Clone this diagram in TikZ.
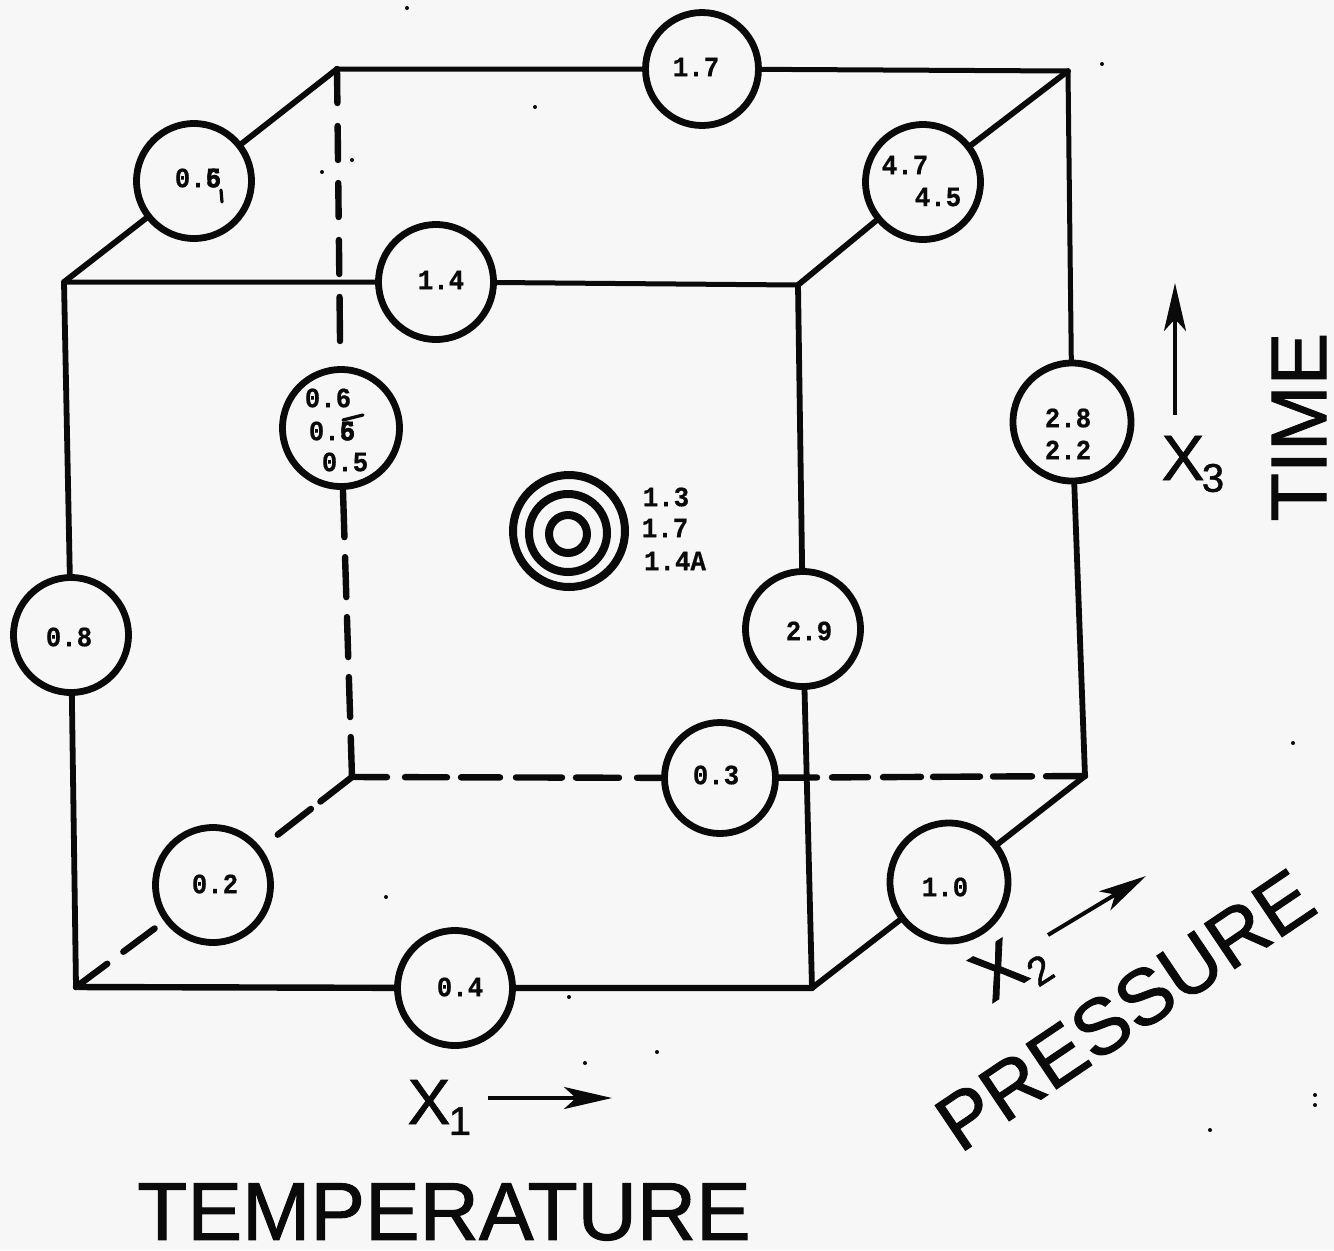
\documentclass[tikz,border=0pt]{standalone}
\usepackage{fontspec}
\setmainfont{Liberation Sans}[FakeBold=1.2]
\newfontfamily\typer{Liberation Mono}[BoldFeatures={FakeStretch=0.92,FakeBold=0.6}]
\usetikzlibrary{arrows.meta}
\definecolor{paper}{HTML}{F7F7F7}
\definecolor{ink}{HTML}{0A0A0A}
\tikzset{
  spot/.style={circle,draw=ink,line width=3.4pt,minimum size=#1,inner sep=0pt,outer sep=0pt},
  spot/.default=57.5pt,
  val/.style={inner sep=0pt,text=ink,font=\typer\bfseries\fontsize{14}{14}\selectfont},
  edge/.style={draw=ink,line width=2.9pt,line cap=round},
  hidden/.style={edge,line width=3.2pt},
  ring/.style={circle,draw=ink,line width=4pt,inner sep=0pt,outer sep=0pt,minimum size=#1},
  big/.style={inner sep=0pt,text=ink,font=\fontsize{39.5}{39.5}\selectfont},
  axis/.style={inner sep=0pt,text=ink,font=\fontsize{32}{32}\selectfont},
  axsubfont/.style={inner sep=0pt,text=ink,font=\fontsize{20}{20}\selectfont},
  axarrow/.style={draw=ink,line width=2pt,-{Stealth[length=24pt,width=11pt,inset=6pt]}},
  mark stroke/.style={draw=ink,line width=1.6pt,line cap=round},
  speck/.style={fill=ink}
}
\begin{document}
\begin{tikzpicture}[x=0.5pt,y=-0.5pt]
\fill[paper] (0,0) rectangle (1334,1250);
\useasboundingbox (0,0) rectangle (1334,1250);
% cube corners
\coordinate (A) at (64,282);
\coordinate (B) at (798,285);
\coordinate (C) at (812,988);
\coordinate (D) at (76,987);
\coordinate (E) at (337,69);
\coordinate (F) at (1068,71);
\coordinate (G) at (1085,776);
\coordinate (H) at (352,777);
% circles
\node[spot=56.5pt] (c17) at (702,69) {};
\node[spot] (c06) at (194,181) {};
\node[spot] (c14) at (436,282) {};
\node[spot] (c47) at (923,182) {};
\node[spot=58.5pt] (c065) at (341,428) {};
\node[spot=59pt] (c28) at (1072,422) {};
\node[spot] (c08) at (71,635) {};
\node[spot] (c29) at (803,629) {};
\node[spot=55.5pt] (c03) at (720,778) {};
\node[spot] (c02) at (213,885) {};
\node[spot=59pt] (c10) at (949,882) {};
\node[spot] (c04) at (455,988) {};
% solid edges
\draw[edge,line width=2.5pt] (A) -- (c14) (c14) -- (B);
\draw[edge,line width=2.5pt] (E) -- (c17) (c17) -- (F);
\draw[edge] (A) -- (c06) (c06) -- (E);
\draw[edge] (B) -- (c47) (c47) -- (F);
\draw[edge] (A) -- (c08) (c08) -- (D);
\draw[edge] (B) -- (c29) (c29) -- (C);
\draw[edge,line width=2.5pt] (F) -- (c28);
\draw[edge] (c28) -- (G);
\draw[edge,line width=3.2pt] (D) -- (c04) (c04) -- (C);
\draw[edge] (C) -- (c10) (c10) -- (G);
% hidden edges
\draw[hidden,dash pattern=on 17pt off 11.5pt on 17pt off 11.5pt on 17pt off 11.5pt on 17pt off 11.5pt on 22pt off 30pt] (E) -- (c065);
\draw[hidden,dash pattern=on 20pt off 10pt on 20pt off 10pt on 20pt off 10pt on 20pt off 10pt on 30pt off 10pt] (H) -- (c065);
\draw[hidden,dash pattern=on 17.5pt off 9pt on 21pt off 7pt on 19.5pt off 8pt on 23pt off 7pt on 21.5pt off 9pt on 40pt off 10pt] (H) -- (c03);
\draw[hidden,dash pattern=on 19.5pt off 7pt on 19.5pt off 6.5pt on 23.5pt off 6pt on 19pt off 7.5pt on 18pt off 7.5pt on 40pt off 10pt] (G) -- (c03);
\draw[hidden,dash pattern=on 20pt off 6pt on 21pt off 30pt] (H) -- (c02);
\draw[hidden,dash pattern=on 19.5pt off 10pt on 19.5pt off 30pt] (D) -- (c02);
% values
\node[val] (t17) at (696,67) {1.7};
\node[val] (t06) at (198,178) {0.\rlap{5}6};
\draw[mark stroke] (221,190) -- (222,202);
\node[val] (t14) at (441,280) {1.4};
\node[val] (t47) at (905,165) {4.7};
\node[val] (t45) at (938,197) {4.5};
\node[val] (t06a) at (328,398) {0.6};
\node[val] (t05a) at (332,431) {0.\rlap{5}6};
\draw[mark stroke] (343,420) -- (363,415);
\node[val] (t05b) at (345,462) {0.5};
\node[val] (t28) at (1068,418) {2.8};
\node[val] (t22) at (1068,450) {2.2};
\node[val] (t08) at (69,637) {0.8};
\node[val] (t29) at (809,631) {2.9};
\node[val] (t03) at (716,775) {0.3};
\node[val] (t02) at (215,884) {0.2};
\node[val] (t10) at (945,887) {1.0};
\node[val] (t04) at (460,987) {0.4};
% centre point
\node[ring=56pt] (r1) at (569,531) {};
\node[ring=39pt] (r2) at (568,533) {};
\node[ring=19pt] (r3) at (568,534) {};
\node[val] (t13) at (666,497) {1.3};
\node[val] (t17b) at (665,528) {1.7};
\node[val] (t14a) at (675,561) {1.4A};
% axes
\node[axis] (x1) at (429,1102) {X};
\node[axsubfont] (x1s) at (460,1121) {1};
\coordinate (x1a) at (488,1098);
\coordinate (x1b) at (612,1098);
\draw[axarrow] (x1a) -- (x1b);
\node[axis,rotate=33,font=\fontsize{36}{36}\selectfont] (x2) at (998,970) {X};
\node[axsubfont,rotate=33] (x2s) at (1040,970) {2};
\coordinate (x2a) at (1048,935);
\coordinate (x2b) at (1146,876);
\draw[axarrow] (x2a) -- (x2b);
\node[axis] (x3) at (1183,458) {X};
\node[axsubfont] (x3s) at (1213,478) {3};
\coordinate (x3a) at (1175,415);
\coordinate (x3b) at (1175,283);
\draw[axarrow] (x3a) -- (x3b);
\node[big,font=\fontsize{41}{41}\selectfont] (temp) at (444,1212) {TEMPERATURE};
\node[big,rotate=34] (pres) at (1125,1010) {PRESSURE};
\node[big,rotate=90] (time) at (1299,427) {TIME};
% specks
\foreach \sx/\sy in {407/8,1102/64,535/107,322/172,352/160,386/897,569/997,585/1063,657/1052,1293/743,1315/1095,1210/1130,1315/1105}
  \fill[speck] (\sx,\sy) circle (1pt);
\end{tikzpicture}
\end{document}
